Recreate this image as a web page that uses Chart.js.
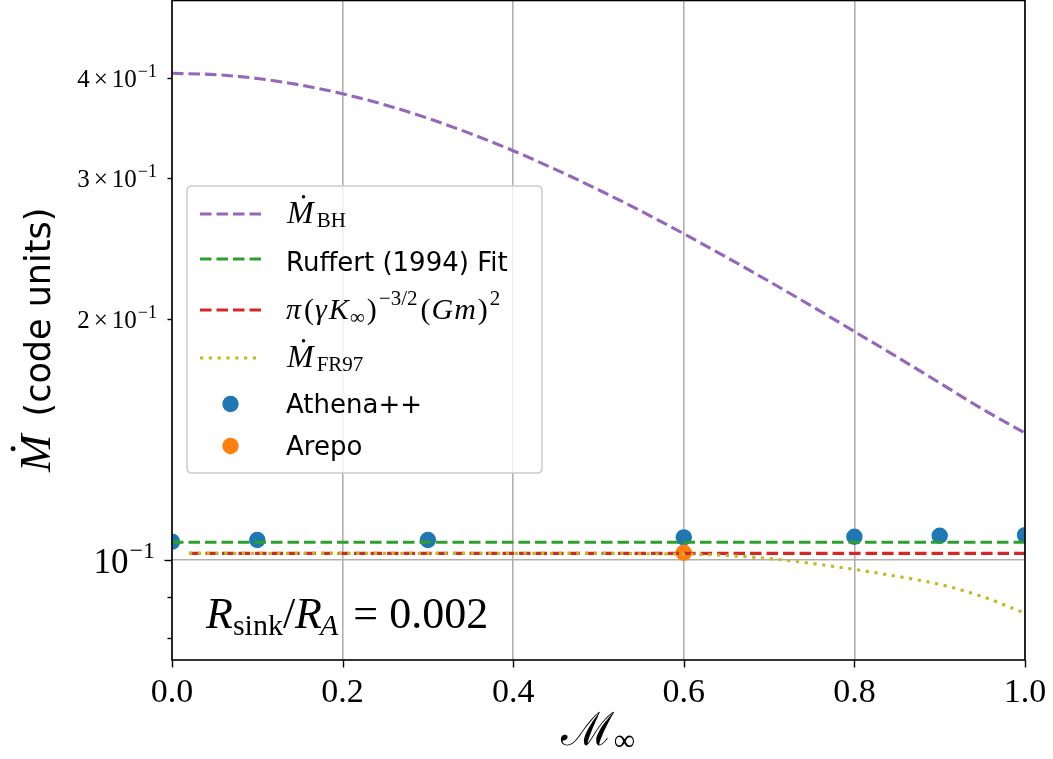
<!DOCTYPE html>
<html>
<head>
<meta charset="utf-8">
<script src="https://cdn.jsdelivr.net/npm/chart.js@4.4.1/dist/chart.umd.min.js"></script>
<style>
html,body{margin:0;padding:0;background:#fff;}
#wrap{width:1053px;height:759px;position:relative;}
</style>
</head>
<body>
<div id="wrap"><canvas id="c" width="1053" height="759"></canvas></div>
<script>
// ---------- data ----------
const bhX = [0, 0.05, 0.1, 0.15, 0.2, 0.25, 0.3, 0.35, 0.4, 0.45, 0.5, 0.55, 0.6, 0.65, 0.7, 0.75, 0.8, 0.85, 0.9, 0.95, 1.0];
const bhY = [0.405, 0.4035, 0.399, 0.3917, 0.3819, 0.3698, 0.3559, 0.3405, 0.3242, 0.3071, 0.2898, 0.2725, 0.2554, 0.2387, 0.2227, 0.2074, 0.1928, 0.1792, 0.1663, 0.1543, 0.1440];
const ruffertX = [0, 1.0];
const ruffertY = [0.1052, 0.1052];
const analyticX = [0.02, 1.0];
const analyticY = [0.1019, 0.1019];
const fr97X = [0.02, 0.1, 0.2, 0.3, 0.4, 0.5, 0.55, 0.6, 0.65, 0.7, 0.75, 0.8, 0.85, 0.9, 0.95, 1.0];
const fr97Y = [0.1019, 0.1019, 0.1019, 0.1019, 0.1019, 0.1019, 0.1018, 0.1017, 0.1013, 0.1004, 0.0990, 0.0973, 0.0954, 0.0932, 0.0900, 0.0858];
const athenaX = [0, 0.1, 0.3, 0.6, 0.8, 0.9, 1.0];
const athenaY = [0.1054, 0.1059, 0.1059, 0.1067, 0.1069, 0.1072, 0.1074];
const arepoX = [0.6];
const arepoY = [0.1021];

const xTickValues = [0, 0.2, 0.4, 0.6, 0.8, 1.0];
const yTickValues = [0.08, 0.09, 0.1, 0.2, 0.3, 0.4];
// label = mantissa part + "10" with exponent (null = unlabelled minor tick)
const yTickMantissa = [null, null, '', '2', '3', '4'];
const yTickExponent = '\u22121';
const yMajorValues = [0.1];

const legendLabels = ['M_BH', 'Ruffert (1994) Fit', 'pi(gammaK)^-3/2(Gm)^2', 'M_FR97', 'Athena++', 'Arepo'];

// ---------- styles ----------
const SERIF = '"Liberation Serif", "DejaVu Serif", serif';
const SANS = '"DejaVu Sans", "Liberation Sans", sans-serif';
const C_PURPLE = '#9467bd', C_GREEN = '#2ca02c', C_RED = '#d62728', C_OLIVE = '#bcbd22', C_BLUE = '#1f77b4', C_ORANGE = '#ff7f0e';
const DASH = [11.5, 5];
const DOT = [3.2, 5.6];
const LW = 3.1;

function pts(xs, ys) { return xs.map((x, i) => ({ x: x, y: ys[i] })); }

function lineDs(label, xs, ys, color, dash, order) {
  return {
    label: label, data: pts(xs, ys), showLine: true, borderColor: color, backgroundColor: color,
    borderWidth: LW, borderDash: dash, pointRadius: 0, pointHoverRadius: 0, fill: false,
    borderCapStyle: 'butt', tension: 0, cubicInterpolationMode: 'monotone', clip: 0, order: order
  };
}
function dotDs(label, xs, ys, color, order) {
  return {
    label: label, data: pts(xs, ys), showLine: false, backgroundColor: color, borderColor: color,
    borderWidth: 0, pointRadius: 8.2, pointHoverRadius: 8.2, clip: 0, order: order
  };
}

// ---------- text helpers ----------
function mdot(ctx, x, y, size) {
  ctx.font = 'italic ' + size + 'px ' + SERIF;
  ctx.fillText('M', x, y);
  const w = ctx.measureText('M').width;
  ctx.beginPath();
  ctx.arc(x + w * 0.62, y - size * 0.82, size * 0.055, 0, Math.PI * 2);
  ctx.fill();
  return w;
}
function rich(ctx, x, y, parts) {
  let cx = x;
  for (const p of parts) {
    ctx.font = p.f;
    cx += (p.dx || 0);
    ctx.fillText(p.t, cx, y + (p.dy || 0));
    cx += ctx.measureText(p.t).width;
  }
  return cx - x;
}
function richWidth(ctx, parts) {
  let w = 0;
  for (const p of parts) { ctx.font = p.f; w += (p.dx || 0) + ctx.measureText(p.t).width; }
  return w;
}

const decor = {
  id: 'decor',
  afterDraw(chart) {
    const ctx = chart.ctx;
    const a = chart.chartArea;
    const xs = chart.scales.x, ys = chart.scales.y;
    ctx.save();
    ctx.fillStyle = '#000';
    ctx.strokeStyle = '#000';
    // frame
    ctx.lineWidth = 1.6;
    ctx.strokeRect(a.left, a.top + 0.5, a.right - a.left, a.bottom - a.top - 0.5);
    // y tick marks + labels
    ctx.lineWidth = 1.4;
    ctx.textAlign = 'left';
    ctx.textBaseline = 'alphabetic';
    yTickValues.forEach((v, i) => {
      const py = Math.round(ys.getPixelForValue(v)) + 0.5;
      const major = yMajorValues.includes(v);
      const len = major ? 7.5 : 4.5;
      ctx.beginPath(); ctx.moveTo(a.left - len, py); ctx.lineTo(a.left, py); ctx.stroke();
      const m = yTickMantissa[i];
      if (m === null) return;
      let parts;
      if (major) {
        parts = [{ t: '10', f: '35px ' + SERIF, dy: 12 }, { t: yTickExponent, f: '24px ' + SERIF, dy: -3, dx: 1 }];
      } else {
        const f = '25px ' + SERIF;
        parts = [{ t: m, f: f, dy: 8 }, { t: '\u00D7', f: f, dy: 8, dx: 4 }, { t: '10', f: f, dy: 8, dx: 4 },
                 { t: yTickExponent, f: '18px ' + SERIF, dy: -2, dx: 1 }];
      }
      const w = richWidth(ctx, parts);
      const right = major ? 155 : 157;
      rich(ctx, right - w, py, parts);
    });
    // x tick marks
    xTickValues.forEach(v => {
      const px = Math.round(xs.getPixelForValue(v)) + 0.5;
      ctx.beginPath(); ctx.moveTo(px, a.bottom); ctx.lineTo(px, a.bottom + 7.5); ctx.stroke();
    });

    // legend box
    const L = 187, T = 186, R = 542, B = 473, r = 5;
    ctx.beginPath();
    ctx.moveTo(L + r, T); ctx.lineTo(R - r, T); ctx.quadraticCurveTo(R, T, R, T + r);
    ctx.lineTo(R, B - r); ctx.quadraticCurveTo(R, B, R - r, B);
    ctx.lineTo(L + r, B); ctx.quadraticCurveTo(L, B, L, B - r);
    ctx.lineTo(L, T + r); ctx.quadraticCurveTo(L, T, L + r, T);
    ctx.closePath();
    ctx.fillStyle = 'rgba(255,255,255,0.8)';
    ctx.fill();
    ctx.strokeStyle = '#cccccc';
    ctx.lineWidth = 1.5;
    ctx.stroke();

    const ds = chart.data.datasets;
    const sampleY = [214, 259, 310, 358, 404, 446];
    const sx0 = 200, sx1 = 261, tx = 286;
    [0, 1, 2, 3].forEach((di, k) => {
      ctx.save();
      ctx.strokeStyle = ds[di].borderColor;
      ctx.lineWidth = LW;
      ctx.lineCap = 'butt';
      ctx.setLineDash(ds[di].borderDash);
      ctx.beginPath(); ctx.moveTo(sx0, sampleY[k]); ctx.lineTo(sx1, sampleY[k]); ctx.stroke();
      ctx.restore();
    });
    [4, 5].forEach((di, k) => {
      ctx.fillStyle = ds[di].backgroundColor;
      ctx.beginPath(); ctx.arc(230.5, sampleY[4 + k], 8.2, 0, Math.PI * 2); ctx.fill();
    });
    ctx.fillStyle = '#000';
    // row 1: M_BH
    let w = mdot(ctx, tx + 1, 223, 32);
    rich(ctx, tx + w + 4, 227, [{ t: 'BH', f: '21px ' + SERIF }]);
    // row 2
    ctx.font = '26px ' + SANS;
    ctx.fillText(legendLabels[1], tx, 271);
    // row 3: pi(gamma K_inf)^{-3/2}(Gm)^2
    const mf = '30px ' + SERIF, mi = 'italic 30px ' + SERIF, sf = '21px ' + SERIF;
    let cx = tx;
    cx += rich(ctx, cx, 319, [
      { t: '\u03C0', f: mi }, { t: '(', f: mf, dx: 3 }, { t: '\u03B3', f: mi, dx: 1 }, { t: 'K', f: mi, dx: 2 }]);
    cx += rich(ctx, cx, 324, [{ t: '\u221E', f: sf, dx: 1 }]);
    cx += rich(ctx, cx, 319, [{ t: ')', f: mf, dx: 2 }]);
    cx += rich(ctx, cx, 305, [{ t: '\u22123/2', f: sf, dx: 2 }]);
    cx += rich(ctx, cx, 319, [{ t: '(', f: mf, dx: 3 }, { t: 'G', f: mi, dx: 1 }, { t: 'm', f: mi, dx: 1 }, { t: ')', f: mf, dx: 2 }]);
    rich(ctx, cx, 305, [{ t: '2', f: sf, dx: 2 }]);
    // row 4: M_FR97
    w = mdot(ctx, tx + 1, 367, 32);
    rich(ctx, tx + w + 4, 371, [{ t: 'FR97', f: '21px ' + SERIF }]);
    // rows 5, 6
    ctx.font = '26px ' + SANS;
    ctx.fillText(legendLabels[4], tx, 413);
    ctx.fillText(legendLabels[5], tx, 455);

    // annotation R_sink/R_A = 0.002
    const af = '44px ' + SERIF, ai = 'italic 44px ' + SERIF, asub = '30px ' + SERIF, asubi = 'italic 30px ' + SERIF;
    cx = 206;
    cx += rich(ctx, cx, 628, [{ t: 'R', f: ai }]);
    cx += rich(ctx, cx, 635, [{ t: 'sink', f: asub }]);
    cx += rich(ctx, cx, 628, [{ t: '/', f: af }, { t: 'R', f: ai }]);
    cx += rich(ctx, cx, 635, [{ t: 'A', f: asubi, dx: -2 }]);
    rich(ctx, cx, 628, [{ t: ' = 0.002', f: af, dx: 4 }]);

    // x axis title: script M_inf
    ctx.font = '46px "DejaVu Serif", serif';
    const mw = ctx.measureText('\u2133').width;
    ctx.font = '30px ' + SERIF;
    const iw = ctx.measureText('\u221E').width;
    const x0 = 598 - (mw + iw) / 2;
    rich(ctx, x0, 745, [{ t: '\u2133', f: '46px "DejaVu Serif", serif' }]);
    rich(ctx, x0 + mw, 750, [{ t: '\u221E', f: '30px ' + SERIF }]);

    // y axis title (rotated)
    ctx.save();
    ctx.translate(50, 472);
    ctx.rotate(-Math.PI / 2);
    const mW = mdot(ctx, 0, 0, 45);
    ctx.font = '35px ' + SANS;
    ctx.fillText('(code units)', mW + 18, 0);
    ctx.restore();

    ctx.restore();
  }
};

const chart = new Chart(document.getElementById('c'), {
  type: 'scatter',
  data: {
    datasets: [
      lineDs(legendLabels[0], bhX, bhY, C_PURPLE, DASH, 3),
      lineDs(legendLabels[1], ruffertX, ruffertY, C_GREEN, DASH, 2),
      lineDs(legendLabels[2], analyticX, analyticY, C_RED, DASH, 1),
      lineDs(legendLabels[3], fr97X, fr97Y, C_OLIVE, DOT, 0),
      dotDs(legendLabels[4], athenaX, athenaY, C_BLUE, 5),
      dotDs(legendLabels[5], arepoX, arepoY, C_ORANGE, 4)
    ]
  },
  options: {
    responsive: false,
    animation: false,
    devicePixelRatio: 1,
    layout: { autoPadding: false, padding: { left: 0, right: 28, top: 0, bottom: 0 } },
    plugins: { legend: { display: false }, tooltip: { enabled: false } },
    events: [],
    scales: {
      x: {
        type: 'linear', min: 0, max: 1,
        afterBuildTicks: s => { s.ticks = xTickValues.map(v => ({ value: v })); },
        afterFit: s => { s.height = 99; s.paddingLeft = 0; s.paddingRight = 0; },
        grid: { color: '#b0b0b0', lineWidth: 1.6, drawTicks: false },
        border: { display: false },
        ticks: {
          callback: v => Number(v).toFixed(1),
          font: { family: SERIF, size: 34 }, color: '#000', padding: 13, maxRotation: 0, autoSkip: false
        }
      },
      y: {
        type: 'logarithmic', min: 0.075, max: 0.5,
        afterBuildTicks: s => { s.ticks = yTickValues.map(v => ({ value: v, major: yMajorValues.includes(v) })); },
        afterFit: s => { s.width = 172; s.paddingTop = 0; s.paddingBottom = 0; },
        grid: {
          color: c => (c.tick && yMajorValues.includes(c.tick.value)) ? '#b0b0b0' : 'rgba(0,0,0,0)',
          lineWidth: 1.6, drawTicks: false
        },
        border: { display: false },
        ticks: { display: false, autoSkip: false }
      }
    }
  },
  plugins: [decor]
});
</script>
</body>
</html>
